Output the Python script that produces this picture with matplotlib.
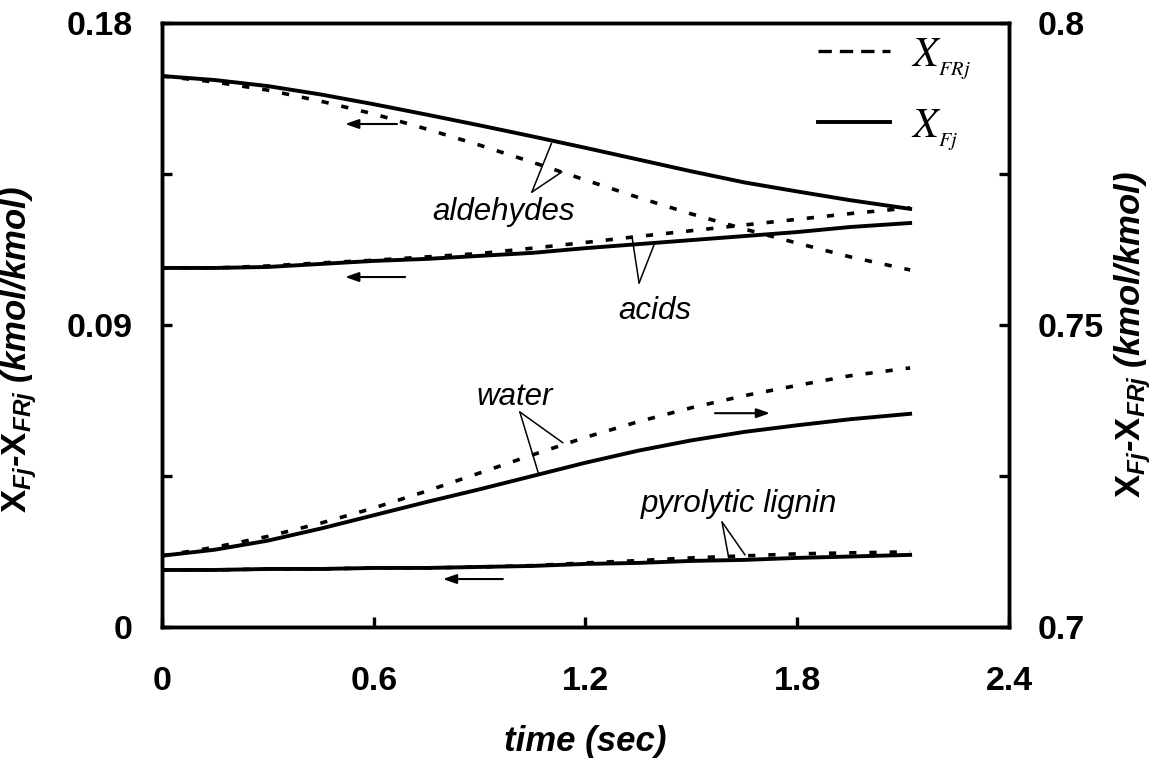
import matplotlib
matplotlib.use('Agg')
import matplotlib.pyplot as plt
from matplotlib.lines import Line2D
from matplotlib.font_manager import FontProperties

plt.rcParams['font.family'] = ['Liberation Sans', 'DejaVu Sans']
plt.rcParams['mathtext.fontset'] = 'custom'
plt.rcParams['mathtext.rm'] = 'Liberation Sans'
plt.rcParams['mathtext.it'] = 'Liberation Sans:italic'
plt.rcParams['mathtext.bf'] = 'Liberation Sans:bold'
plt.rcParams['mathtext.bfit'] = 'Liberation Sans:italic:bold'

# time (sec)
t = [0, 0.15, 0.3, 0.45, 0.6, 0.75, 0.9, 1.05, 1.2, 1.35, 1.5, 1.65, 1.8, 1.95, 2.12]

# left axis, kmol/kmol
ald_fj = [0.1642, 0.1630, 0.1612, 0.1587, 0.1558, 0.1527, 0.1495, 0.1462,
          0.1428, 0.1393, 0.1358, 0.1325, 0.1298, 0.1272, 0.1246]
ald_frj = [0.1642, 0.1624, 0.1600, 0.1567, 0.1529, 0.1484, 0.1436, 0.1385,
           0.1332, 0.1280, 0.1231, 0.1186, 0.1144, 0.1103, 0.1064]
acid_fj = [0.1070, 0.1070, 0.1073, 0.1082, 0.1091, 0.1097, 0.1106, 0.1115,
           0.1129, 0.1141, 0.1153, 0.1165, 0.1177, 0.1192, 0.1204]
acid_frj = [0.1070, 0.1070, 0.1076, 0.1085, 0.1093, 0.1103, 0.1113, 0.1129,
            0.1146, 0.1164, 0.1181, 0.1198, 0.1215, 0.1232, 0.1249]
lig_fj = [0.0170, 0.0170, 0.0173, 0.0173, 0.0176, 0.0176, 0.0179, 0.0182,
          0.0188, 0.0191, 0.0197, 0.0200, 0.0206, 0.0210, 0.0215]
lig_frj = [0.0170, 0.0170, 0.0173, 0.0173, 0.0176, 0.0176, 0.0179, 0.0183,
           0.0191, 0.0198, 0.0206, 0.0212, 0.0218, 0.0221, 0.0224]

# right axis, kmol/kmol
wat_fj = [0.7118, 0.7128, 0.7143, 0.7163, 0.7185, 0.7207, 0.7228, 0.7250,
          0.7272, 0.7292, 0.7309, 0.7323, 0.7334, 0.7344, 0.7353]
wat_frj = [0.7118, 0.7132, 0.7150, 0.7172, 0.7197, 0.7225, 0.7255, 0.7285,
           0.7314, 0.7340, 0.7363, 0.7383, 0.7400, 0.7416, 0.7429]

xticks = [0, 0.6, 1.2, 1.8, 2.4]
xticklabels = ['0', '0.6', '1.2', '1.8', '2.4']
yticks_left = [0, 0.09, 0.18]
yticklabels_left = ['0', '0.09', '0.18']
yminor_left = [0.045, 0.135]
yticks_right = [0.7, 0.75, 0.8]
yticklabels_right = ['0.7', '0.75', '0.8']
yminor_right = [0.725, 0.775]

# labels: (text, t, value) ; leader lines: apex, then two curve points
ald_label = ('aldehydes', 0.969, 0.1213)
ald_lead = [(1.048, 0.1296), (1.104, 0.1442), (1.133, 0.1356)]
acid_label = ('acids', 1.397, 0.0918)
acid_lead = [(1.352, 0.1025), (1.332, 0.1162), (1.394, 0.1138)]
lig_label = ('pyrolytic lignin', 1.635, 0.0343)
lig_lead = [(1.587, 0.0313), (1.606, 0.0206), (1.652, 0.0215)]
wat_label = ('water', 1.000, 0.7368)
wat_lead = [(1.014, 0.7356), (1.068, 0.7252), (1.136, 0.7305)]

# arrows: (tail t, head t, value)
ald_arrow = (0.666, 0.519, 0.1499)
acid_arrow = (0.689, 0.519, 0.1043)
lig_arrow = (0.966, 0.796, 0.0143)
wat_arrow = (1.567, 1.723, 0.7354)

dash = (0, (2.0, 3.6))
lw_s = 2.8
lw_d = 2.6

fig = plt.figure(figsize=(11.56, 7.59), dpi=100)
ax = fig.add_axes([0.1401, 0.1739, 0.7327, 0.7958])
ax2 = ax.twinx()

ax.plot(t, ald_fj, color='k', lw=lw_s)
ax.plot(t, ald_frj, color='k', lw=lw_d, linestyle=dash)
ax.plot(t, acid_fj, color='k', lw=lw_s)
ax.plot(t, acid_frj, color='k', lw=lw_d, linestyle=dash)
ax.plot(t, lig_fj, color='k', lw=lw_s)
ax.plot(t, lig_frj, color='k', lw=lw_d, linestyle=dash)
ax2.plot(t, wat_fj, color='k', lw=lw_s)
ax2.plot(t, wat_frj, color='k', lw=lw_d, linestyle=dash)

ax.set_xlim(0, 2.4)
ax.set_ylim(0, 0.18)
ax2.set_ylim(0.7, 0.8)

ax.set_xticks(xticks)
ax.set_xticklabels(xticklabels)
ax.set_yticks(yticks_left)
ax.set_yticklabels(yticklabels_left)
ax.set_yticks(yminor_left, minor=True)
ax2.set_yticks(yticks_right)
ax2.set_yticklabels(yticklabels_right)
ax2.set_yticks(yminor_right, minor=True)

for a in (ax, ax2):
    a.tick_params(which='both', direction='in', length=7.5, width=2.4,
                  labelsize=24.5)
    for s in a.spines.values():
        s.set_linewidth(2.5)
    for lab in a.get_xticklabels() + a.get_yticklabels():
        lab.set_fontweight('bold')
ax.tick_params(axis='x', pad=28)
ax.tick_params(axis='y', pad=21)
ax2.tick_params(axis='y', pad=21)

lab_kw = dict(fontsize=25, fontweight='bold', fontstyle='italic')
ax.set_xlabel('time (sec)', labelpad=20, **lab_kw)
ylab = r'$\mathbf{X}_{\mathbfit{Fj}}$-$\mathbf{X}_{\mathbfit{FRj}}$ (kmol/kmol)'
ax.set_ylabel(ylab, **lab_kw)
ax2.set_ylabel(ylab, **lab_kw)
ax.yaxis.set_label_coords(-0.145, 0.46)
ax2.yaxis.set_label_coords(1.122, 0.485)

# species labels and leader lines
for a, lab, lead in [(ax, ald_label, ald_lead), (ax, acid_label, acid_lead),
                     (ax, lig_label, lig_lead), (ax2, wat_label, wat_lead)]:
    a.text(lab[1], lab[2], lab[0], fontsize=22.5, fontstyle='italic',
           ha='center', va='baseline')
    apex = lead[0]
    for pt in lead[1:]:
        a.annotate('', xy=pt, xytext=apex,
                   arrowprops=dict(arrowstyle='-', lw=1.1, color='k',
                                   shrinkA=0, shrinkB=0))

# axis arrows
for a, arr in [(ax, ald_arrow), (ax, acid_arrow), (ax, lig_arrow), (ax2, wat_arrow)]:
    a.annotate('', xy=(arr[1], arr[2]), xytext=(arr[0], arr[2]),
               arrowprops=dict(arrowstyle='-|>,head_length=0.8,head_width=0.28',
                               lw=1.5, color='k', shrinkA=0, shrinkB=0))

handles = [Line2D([], [], color='k', lw=2.4, linestyle=(0, (4.0, 2.4))),
           Line2D([], [], color='k', lw=2.8)]
leg_prop = FontProperties(family='Liberation Serif', size=30, math_fontfamily='stix')
ax.legend(handles, [r'$X_{_{FRj}}$', r'$X_{_{Fj}}$'], prop=leg_prop,
          frameon=False, loc='upper left', bbox_to_anchor=(0.774, 0.978),
          borderpad=0, borderaxespad=0, handlelength=1.75, handletextpad=0.5,
          labelspacing=0.62)

fig.savefig('out.png', dpi=100)
